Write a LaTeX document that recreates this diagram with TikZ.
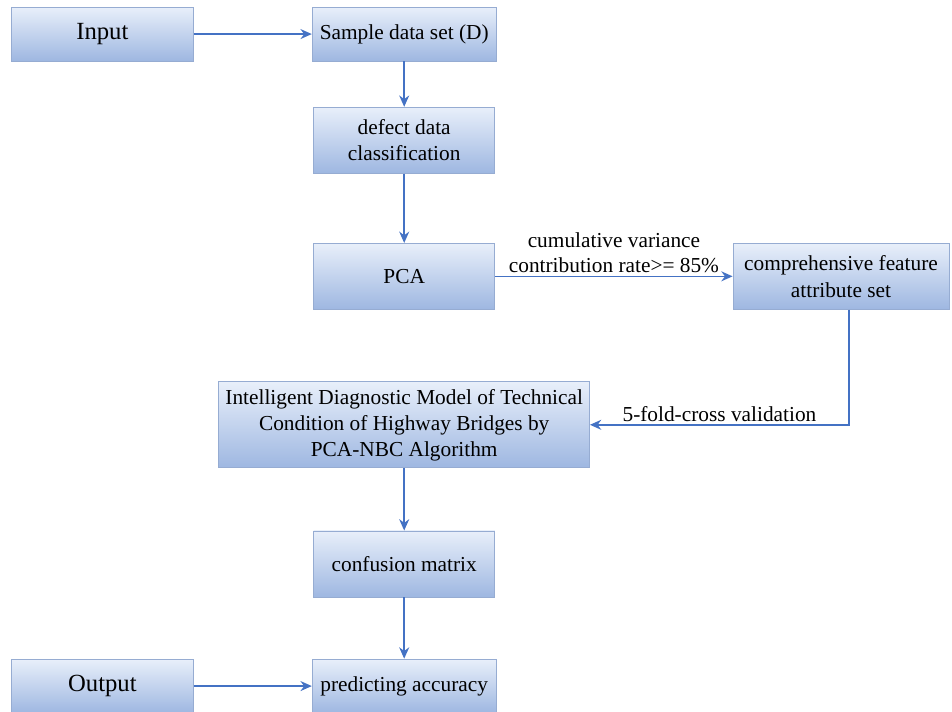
\documentclass[tikz,border=0pt]{standalone}
\usepackage{fontspec}
\setmainfont{Liberation Serif}
\usetikzlibrary{arrows.meta, positioning}
\definecolor{boxtop}{RGB}{232,239,250}
\definecolor{boxbottom}{RGB}{158,183,225}
\definecolor{boxline}{RGB}{150,172,210}
\definecolor{flowblue}{RGB}{68,114,196}

\begin{document}
\begin{tikzpicture}[>={Stealth[length=8.5pt,width=7.5pt]},
  stage/.style={rectangle, draw=boxline, line width=0.6pt, top color=boxtop, bottom color=boxbottom,
    minimum width=#1, minimum height=49.5pt, align=center, inner sep=2pt, font=\fontsize{16}{20}\selectfont},
  stage/.default=136pt,
  io/.style={stage=136.5pt, minimum height=40.5pt, font=\fontsize{18.5}{20}\selectfont},
  flow/.style={->, draw=flowblue, line width=1.1pt},
  note/.style={font=\fontsize{16}{19}\selectfont, align=center, inner sep=2pt}]
  \node[io] (input) {Input};
  \useasboundingbox ([shift={(-8.25pt,5pt)}]input.north west) rectangle ++(714pt,-534pt);
  \node[stage=138pt, minimum height=40.5pt, right=88.5pt of input] (sample) {Sample data set (D)};
  \node[stage, below=34pt of sample] (classify) {defect data\\classification};
  \node[stage, below=52pt of classify] (pca) {PCA};
  \node[stage=162pt, right=178pt of pca] (feature) {comprehensive feature\\attribute set};
  \node[stage=278pt, minimum height=64.5pt, below=53.75pt of pca, font=\fontsize{16}{19.5}\selectfont] (model)
    {Intelligent Diagnostic Model of Technical\\Condition of Highway Bridges by\\PCA-NBC Algorithm};
  \node[stage, below=46.75pt of model] (confusion) {confusion matrix};
  \node[stage=138pt, minimum height=40.5pt, below=46pt of confusion] (accuracy) {predicting accuracy};
  \node[io, left=88.5pt of accuracy] (output) {Output};
  \draw[flow] (input) -- (sample);
  \draw[flow] (sample) -- (classify);
  \draw[flow] (classify) -- (pca);
  \draw[flow] (pca) -- node[note, above]{cumulative variance\\contribution rate>= 85\%} (feature);
  \draw[flow] ([xshift=6pt]feature.south) |- node[note, above, pos=0.75]{5-fold-cross validation} (model.east);
  \draw[flow] (model) -- (confusion);
  \draw[flow] (confusion) -- (accuracy);
  \draw[flow] (output) -- (accuracy);
\end{tikzpicture}
\end{document}
